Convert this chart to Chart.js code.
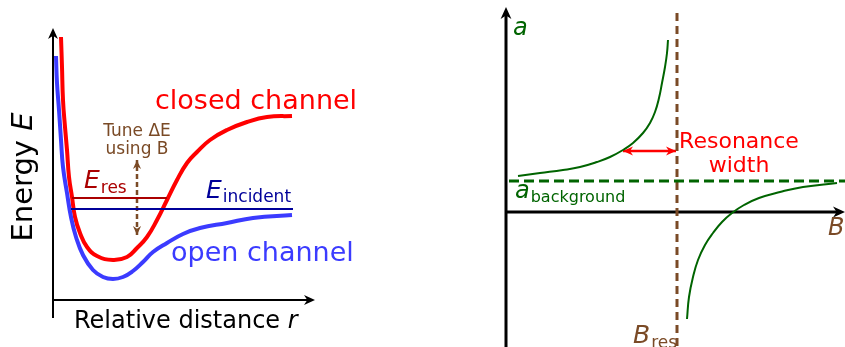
<!DOCTYPE html>
<html>
<head>
<meta charset="utf-8">
<script src="https://cdn.jsdelivr.net/npm/chart.js@4"></script>
<style>
  html, body { margin: 0; padding: 0; background: #fff; }
  #wrap { position: relative; width: 845px; height: 347px; overflow: hidden; }
  #potential { position: absolute; left: 0; top: 0; }
  #scattering { position: absolute; left: 420px; top: 0; }
</style>
</head>
<body>
<div id="wrap">
  <canvas id="potential" width="420" height="347"></canvas>
  <canvas id="scattering" width="425" height="347"></canvas>
</div>
<script>
// Left panel: molecular potentials vs relative distance r
const closedR = [8, 9, 10, 12, 14, 16, 19, 22, 27, 34, 44, 60, 74, 84, 94, 104, 114, 124, 134, 144, 157, 174, 194, 214, 239];
const closedE = [263, 233, 200, 173, 150, 123, 103, 83, 67, 53, 44, 40, 43, 52, 63, 80, 100, 120, 137, 148, 160, 170, 178, 183, 184];
const openR = [3, 4, 6, 8, 10, 14, 18, 23, 30, 40, 50, 60, 70, 80, 90, 100, 114, 130, 147, 174, 200, 239];
const openE = [244, 217, 190, 160, 133, 107, 83, 63, 45, 30, 23, 21, 23, 29, 38, 48, 57, 66, 72, 77, 82, 85];
const resLevel = { r: [19, 114], E: 102 };
const incLevel = { r: [18, 240], E: 91 };
const tuneArrow = { r: 84, E: [65, 140] };

// Right panel: scattering length a vs field B
const belowB = [12, 34, 57, 74, 91, 104, 117, 127, 137, 144, 149, 153, 156, 159, 161, 162];
const belowA = [36, 39, 42, 45, 50, 55, 62, 69, 79, 89, 100, 114, 129, 145, 159, 172];
const aboveB = [181, 183, 187, 192, 199, 207, 216, 226, 238, 253, 274, 297, 331];
const aboveA = [-107, -85, -65, -48, -33, -21, -10, -1, 7, 14, 20, 25, 29];
const aBackground = 31;
const bRes = 171;
const widthArrow = { B: [117, 170], a: 61 };

const RED = '#ff0000', BLUE = '#3b3bff', DARKRED = '#aa0000', NAVY = '#000099';
const BROWN = '#7a4a26', GREEN = '#006400';
const FONT = '"DejaVu Sans", sans-serif';

const pts = (xs, ys) => xs.map((x, i) => ({ x, y: Array.isArray(ys) ? ys[i] : ys }));

function arrowHead(ctx, x, y, angle, size, color) {
  ctx.save();
  ctx.translate(x, y);
  ctx.rotate(angle);
  ctx.fillStyle = color;
  ctx.beginPath();
  ctx.moveTo(0, 0);
  ctx.lineTo(-size, -size * 0.45);
  ctx.lineTo(-size * 0.7, 0);
  ctx.lineTo(-size, size * 0.45);
  ctx.closePath();
  ctx.fill();
  ctx.restore();
}

function label(ctx, text, x, y, size, color, opts = {}) {
  ctx.save();
  ctx.font = (opts.italic ? 'italic ' : '') + size + 'px ' + FONT;
  ctx.fillStyle = color;
  ctx.textAlign = opts.align || 'left';
  ctx.textBaseline = 'alphabetic';
  ctx.fillText(text, x, y);
  const w = ctx.measureText(text).width;
  ctx.restore();
  return w;
}

function baseOptions(xmin, xmax, ymin, ymax) {
  return {
    responsive: false,
    animation: false,
    layout: { padding: 0 },
    plugins: { legend: { display: false }, tooltip: { enabled: false } },
    elements: { point: { radius: 0 } },
    scales: {
      x: { type: 'linear', min: xmin, max: xmax, display: false },
      y: { type: 'linear', min: ymin, max: ymax, display: false }
    }
  };
}

// smooth curve through the points (2D spline, so steep walls stay smooth)
const curve = (data, color, width, extra = {}) => Object.assign({
  data, borderColor: color, borderWidth: width, showLine: true,
  pointRadius: 0, fill: false, tension: 0.45, clip: false,
  borderCapStyle: 'butt', borderJoinStyle: 'round'
}, extra);

new Chart(document.getElementById('potential'), {
  type: 'scatter',
  data: {
    datasets: [
      curve(pts(incLevel.r, incLevel.E), NAVY, 2, { tension: 0 }),
      curve(pts(resLevel.r, resLevel.E), DARKRED, 2, { tension: 0 }),
      curve(pts([tuneArrow.r, tuneArrow.r], tuneArrow.E), BROWN, 2.5, { tension: 0, borderDash: [5, 3] }),
      curve(pts(openR, openE), BLUE, 4),
      curve(pts(closedR, closedE), RED, 4)
    ]
  },
  options: baseOptions(-53, 367, -47, 300),
  plugins: [{
    id: 'potentialDecor',
    beforeDatasetsDraw(chart) {
      const { ctx, scales: { x, y } } = chart;
      ctx.save();
      ctx.strokeStyle = '#000';
      ctx.lineWidth = 2;
      ctx.beginPath();
      ctx.moveTo(x.getPixelForValue(0), y.getPixelForValue(-18));
      ctx.lineTo(x.getPixelForValue(0), y.getPixelForValue(266));
      ctx.moveTo(x.getPixelForValue(0), y.getPixelForValue(0));
      ctx.lineTo(x.getPixelForValue(256), y.getPixelForValue(0));
      ctx.stroke();
      ctx.restore();
      arrowHead(ctx, x.getPixelForValue(0), y.getPixelForValue(272), -Math.PI / 2, 11, '#000');
      arrowHead(ctx, x.getPixelForValue(262), y.getPixelForValue(0), 0, 11, '#000');
    },
    afterDatasetsDraw(chart) {
      const { ctx, scales: { x, y } } = chart;
      const px = v => x.getPixelForValue(v), py = v => y.getPixelForValue(v);
      arrowHead(ctx, px(tuneArrow.r), py(tuneArrow.E[1]), -Math.PI / 2, 9, BROWN);
      arrowHead(ctx, px(tuneArrow.r), py(tuneArrow.E[0]), Math.PI / 2, 9, BROWN);

      label(ctx, 'closed channel', px(102), py(191), 27, RED);
      label(ctx, 'open channel', px(118), py(39), 27, BLUE);
      label(ctx, 'Tune ΔE', px(84), py(164), 17, BROWN, { align: 'center' });
      label(ctx, 'using B', px(84), py(146), 17, BROWN, { align: 'center' });

      const we = label(ctx, 'E', px(31), py(112), 25, DARKRED, { italic: true });
      label(ctx, 'res', px(31) + we + 1, py(107), 17, DARKRED);
      const wi = label(ctx, 'E', px(153), py(102), 25, NAVY, { italic: true });
      label(ctx, 'incident', px(153) + wi + 1, py(98), 17, NAVY);

      // vertical axis title, "Energy" upright plus italic E
      ctx.save();
      ctx.translate(px(-21), py(123));
      ctx.rotate(-Math.PI / 2);
      ctx.font = '29px ' + FONT;
      const w1 = ctx.measureText('Energy ').width;
      ctx.font = 'italic 29px ' + FONT;
      const w2 = ctx.measureText('E').width;
      ctx.fillStyle = '#000';
      ctx.font = '29px ' + FONT;
      ctx.fillText('Energy ', -(w1 + w2) / 2, 0);
      ctx.font = 'italic 29px ' + FONT;
      ctx.fillText('E', -(w1 + w2) / 2 + w1, 0);
      ctx.restore();

      const wr = label(ctx, 'Relative distance ', px(21), py(-28), 24, '#000');
      label(ctx, 'r', px(21) + wr, py(-28), 24, '#000', { italic: true });
    }
  }]
});

new Chart(document.getElementById('scattering'), {
  type: 'scatter',
  data: {
    datasets: [
      curve(pts([3, 339], aBackground), GREEN, 3, { tension: 0, borderDash: [10, 5] }),
      curve(pts([bRes, bRes], [199, -140]), BROWN, 3, { tension: 0, borderDash: [8, 5] }),
      curve(pts(belowB, belowA), GREEN, 2),
      curve(pts(aboveB, aboveA), GREEN, 2),
      curve(pts(widthArrow.B, widthArrow.a), RED, 2.5, { tension: 0 })
    ]
  },
  options: baseOptions(-86, 339, -135, 212),
  plugins: [{
    id: 'scatteringDecor',
    beforeDatasetsDraw(chart) {
      const { ctx, scales: { x, y } } = chart;
      ctx.save();
      ctx.strokeStyle = '#000';
      ctx.lineWidth = 3;
      ctx.beginPath();
      ctx.moveTo(x.getPixelForValue(0), y.getPixelForValue(-140));
      ctx.lineTo(x.getPixelForValue(0), y.getPixelForValue(198));
      ctx.moveTo(x.getPixelForValue(0), y.getPixelForValue(0));
      ctx.lineTo(x.getPixelForValue(332), y.getPixelForValue(0));
      ctx.stroke();
      ctx.restore();
      arrowHead(ctx, x.getPixelForValue(0), y.getPixelForValue(205), -Math.PI / 2, 12, '#000');
      arrowHead(ctx, x.getPixelForValue(339), y.getPixelForValue(0), 0, 12, '#000');
    },
    afterDatasetsDraw(chart) {
      const { ctx, scales: { x, y } } = chart;
      const px = v => x.getPixelForValue(v), py = v => y.getPixelForValue(v);
      arrowHead(ctx, px(widthArrow.B[0]), py(widthArrow.a), Math.PI, 10, RED);
      arrowHead(ctx, px(widthArrow.B[1]), py(widthArrow.a), 0, 10, RED);

      label(ctx, 'a', px(7), py(177), 24, GREEN, { italic: true });
      label(ctx, 'B', px(322), py(-23), 24, BROWN, { italic: true });
      const wa = label(ctx, 'a', px(9), py(14), 24, GREEN, { italic: true });
      label(ctx, 'background', px(9) + wa + 1, py(10), 16, GREEN);
      const wb = label(ctx, 'B', px(127), py(-131), 25, BROWN, { italic: true });
      label(ctx, 'res', px(127) + wb + 1, py(-136), 17, BROWN);
      label(ctx, 'Resonance', px(233), py(64), 22, RED, { align: 'center' });
      label(ctx, 'width', px(233), py(40), 22, RED, { align: 'center' });
    }
  }]
});
</script>
</body>
</html>
